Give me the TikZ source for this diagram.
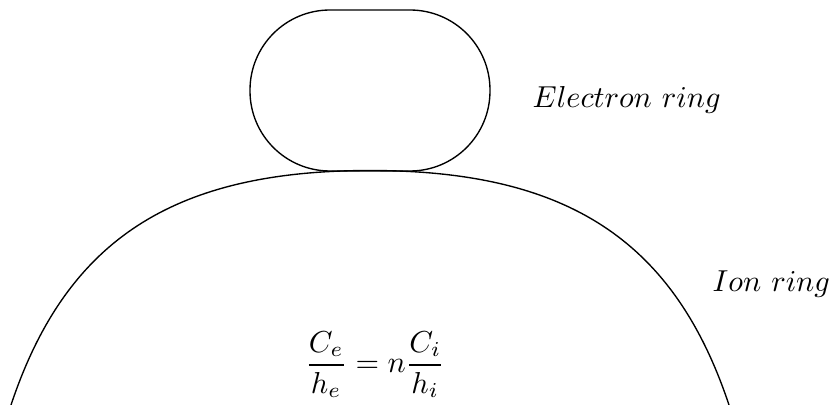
\documentclass[tikz,border=0pt]{standalone}
\begin{document}
\begin{tikzpicture}[x=0.33pt,y=-0.33pt,line width=0.45pt,
  lbl/.style={inner sep=0pt,anchor=base west}]
\useasboundingbox (0,0) rectangle (829,405);
\clip (0,0) rectangle (829,405);
% electron ring
\draw[rounded corners=26.4pt] (250,10) rectangle (490,171);
% ion ring
\coordinate (top) at (370,170.5);
\coordinate (lft) at (11,405);
\coordinate (rgt) at (729,405);
\draw (lft) .. controls (66,240) and (173,170.5) .. (top)
            .. controls (567,170.5) and (674,240) .. (rgt);
\node[lbl] (el) at (532,108) {$Electron\ ring$};
\node[lbl] (ion) at (712,291) {$Ion\ ring$};
\node[inner sep=0pt,anchor=base] (eq) at (375,372.6) {$\displaystyle \frac{C_e}{h_e}=n\frac{C_i}{h_i}$};
\end{tikzpicture}
\end{document}
